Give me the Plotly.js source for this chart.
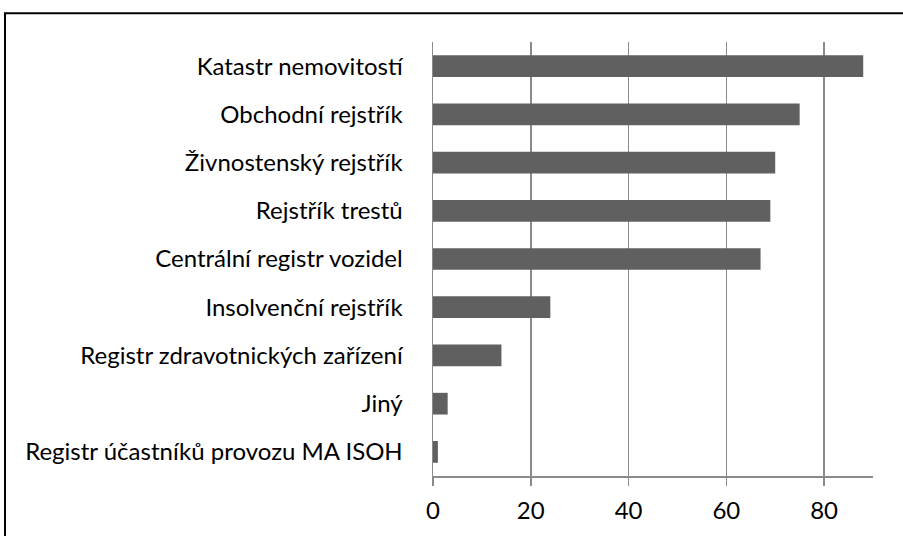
<!DOCTYPE html>
<html>
<head>
<meta charset="utf-8">
<script src="https://cdn.plot.ly/plotly-3.0.1.min.js"></script>
<style>html,body{margin:0;padding:0;background:#fff;}#chart{width:903px;height:536px;}</style>
</head>
<body>
<div id="chart"></div>
<script>
const categories = [
  "Katastr nemovitostí",
  "Obchodní rejstřík",
  "Živnostenský rejstřík",
  "Rejstřík trestů",
  "Centrální registr vozidel",
  "Insolvenční rejstřík",
  "Registr zdravotnických zařízení",
  "Jiný",
  "Registr účastníků provozu MA ISOH"
];
const values = [88, 75, 70, 69, 67, 24, 14, 3, 1];
const tickValues = [0, 20, 40, 60, 80];
const tickLabels = ["0", "20", "40", "60", "80"];

const font = "Lato, 'Liberation Sans', sans-serif";
const trace = {
  type: "bar",
  orientation: "h",
  x: values,
  y: categories,
  marker: {color: "#606060", line: {width: 0}},
  hoverinfo: "x+y"
};
const layout = {
  width: 903,
  height: 536,
  margin: {l: 433, r: 30, t: 42, b: 60, pad: 0},
  paper_bgcolor: "#ffffff",
  plot_bgcolor: "#ffffff",
  showlegend: false,
  bargap: 0.55,
  font: {family: font, size: 24, color: "#000000"},
  xaxis: {
    range: [0, 90],
    tickvals: tickValues,
    ticktext: tickLabels,
    showgrid: true,
    gridcolor: "#8a8a8a",
    gridwidth: 1.5,
    zeroline: false,
    showline: true,
    linecolor: "#8a8a8a",
    linewidth: 1.5,
    ticks: "outside",
    ticklen: 8,
    tickcolor: "#8a8a8a",
    tickwidth: 1.5,
    ticklabelstandoff: 5,
    tickfont: {family: font, size: 24, color: "#000"},
    fixedrange: true
  },
  yaxis: {
    type: "category",
    autorange: "reversed",
    showgrid: false,
    zeroline: false,
    showline: true,
    linecolor: "#8a8a8a",
    linewidth: 1.5,
    ticks: "",
    ticklabelstandoff: 24,
    tickfont: {family: font, size: 24, color: "#000"},
    fixedrange: true
  },
  shapes: [{
    type: "rect", xref: "paper", yref: "paper",
    x0: -0.9727, x1: 2, y0: -1, y1: 1.066,
    line: {color: "#000000", width: 2},
    fillcolor: "rgba(0,0,0,0)",
    layer: "above"
  }]
};
Plotly.newPlot("chart", [trace], layout, {displayModeBar: false, staticPlot: true});
</script>
</body>
</html>
